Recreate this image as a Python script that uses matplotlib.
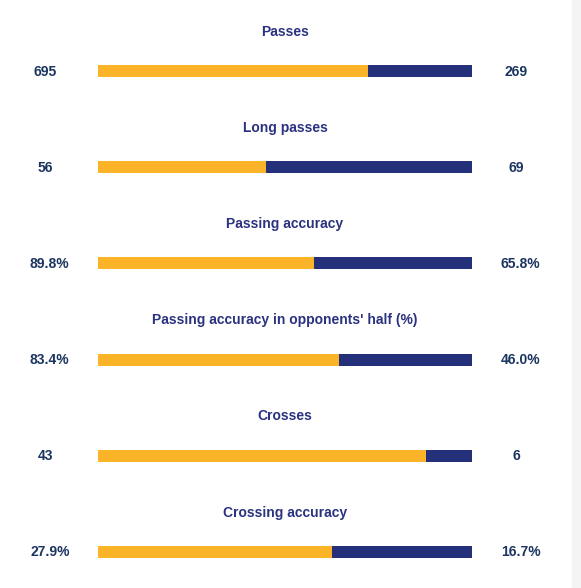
import matplotlib.pyplot as plt
from matplotlib.patches import Rectangle

stats = ["Passes", "Long passes", "Passing accuracy",
         "Passing accuracy in opponents' half (%)", "Crosses", "Crossing accuracy"]
home = [695, 56, 89.8, 83.4, 43, 27.9]
away = [269, 69, 65.8, 46.0, 6, 16.7]
home_labels = ["695", "56", "89.8%", "83.4%", "43", "27.9%"]
away_labels = ["269", "69", "65.8%", "46.0%", "6", "16.7%"]

yellow = "#fbb427"
navy = "#24307a"
title_col = "#2b3280"
value_col = "#1c3560"

W, H = 581, 588
fig = plt.figure(figsize=(W / 100, H / 100), dpi=100)
fig.patch.set_facecolor("white")
# light strip at the right edge
fig.patches.append(Rectangle((572 / W, 0), 9 / W, 1, transform=fig.transFigure,
                             color="#f4f4f4", zorder=0))

ax = fig.add_axes([0, 0, 1, 1])
ax.set_axis_off()
# share 0 -> px 98, share 1 -> px 472 ; row step ~96.2 px, first bar at px 71
bar_l, bar_r = 98, 472
span = bar_r - bar_l
step = 96.2
y0 = 71
ax.set_xlim(-bar_l / span, (W - bar_l) / span)
ax.set_ylim((H - y0) / step, -y0 / step)

share = [h / (h + a) for h, a in zip(home, away)]
rows = list(range(len(stats)))
bh = 12 / step
ax.barh(rows, share, left=0, height=bh, color=yellow, linewidth=0)
ax.barh(rows, [1 - s for s in share], left=share, height=bh, color=navy, linewidth=0)

font = dict(fontsize=10, fontweight="bold", family="Liberation Sans")


def value(x_px, i, label):
    # the number is centred, a trailing % hangs to the right
    shift = 4.3 if label.endswith("%") else 0
    ax.annotate(label, xy=((x_px - bar_l) / span, i + 0.5 / step),
                xytext=(shift, 0), textcoords="offset pixels",
                ha="center", va="center", color=value_col, **font)


for i in rows:
    ax.text(0.5, i - 39.5 / step, stats[i], ha="center", va="center",
            color=title_col, **font)
    value(45.5, i, home_labels[i])
    value(516.5, i, away_labels[i])

fig.savefig("out.png", dpi=100)
